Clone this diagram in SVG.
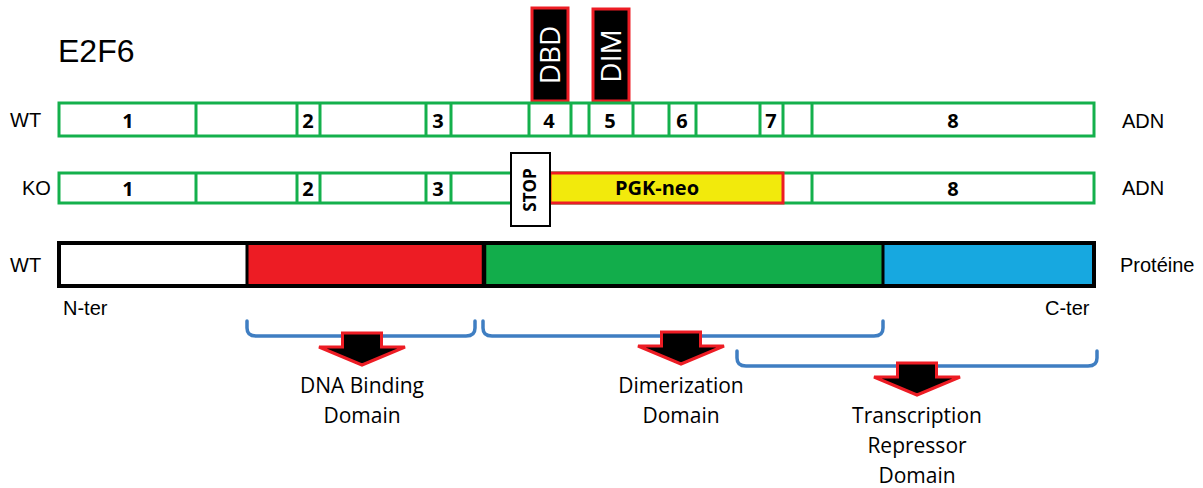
<svg xmlns="http://www.w3.org/2000/svg" width="1203" height="488" viewBox="0 0 1203 488">
<style>
.lbl{font-family:"Liberation Sans",Arial,sans-serif;font-size:20px;fill:#000}
.ex{font-family:"Open Sans","Noto Sans",sans-serif;font-weight:bold;font-size:20px;fill:#000;text-anchor:middle}
.dna{fill:#fff;stroke:#14B04C;stroke-width:3}
.div{stroke:#14B04C;stroke-width:3}
.dom{font-family:"Open Sans","Noto Sans",sans-serif;font-size:21px;fill:#000;text-anchor:middle}
.brk{fill:none;stroke:#3F7EC2;stroke-width:3.5;stroke-linecap:round}
.arr{fill:#000;stroke:#ED1C24;stroke-width:3;stroke-linejoin:miter}
.tag{fill:#000;stroke:#ED1C24;stroke-width:3}
.tagt{font-family:"Open Sans","Noto Sans",sans-serif;font-size:28px;fill:#fff;text-anchor:middle}
.pdiv{stroke:#000;stroke-width:3}
</style>
<defs>
<path id="arrow" class="arr" d="M-19.5,0 H19.5 V14 H43 L0,32 L-43,14 H-19.5 Z"/>
</defs>

<g id="title"><text x="58" y="62" style="font-family:'Liberation Sans',Arial,sans-serif;font-size:32px">E2F6</text></g>

<g id="labels">
<text class="lbl" x="10" y="127">WT</text>
<text class="lbl" x="22" y="195">KO</text>
<text class="lbl" x="10" y="272">WT</text>
<text class="lbl" x="1122" y="128">ADN</text>
<text class="lbl" x="1122" y="195">ADN</text>
<text class="lbl" x="1120" y="272">Protéine</text>
<text class="lbl" x="63" y="315">N-ter</text>
<text class="lbl" x="1045" y="315">C-ter</text>
</g>

<g id="dbd-tag">
<rect class="tag" x="532" y="8" width="36" height="93"/>
<text class="tagt" transform="translate(560,55) rotate(-90)">DBD</text>
</g>
<g id="dim-tag">
<rect class="tag" x="593" y="9" width="36" height="92"/>
<text class="tagt" transform="translate(621,56) rotate(-90)">DIM</text>
</g>

<g id="wt-dna">
<rect class="dna" x="59" y="103" width="1035" height="33"/>
<path class="div" d="M196,103V136 M297,103V136 M320,103V136 M426,103V136 M451,103V136 M529,103V136 M571,103V136 M589,103V136 M633,103V136 M669,103V136 M696,103V136 M760,103V136 M783,103V136 M812,103V136"/>
<text class="ex" x="128" y="128">1</text>
<text class="ex" x="308" y="128">2</text>
<text class="ex" x="438" y="128">3</text>
<text class="ex" x="549" y="128">4</text>
<text class="ex" x="610" y="128">5</text>
<text class="ex" x="682" y="128">6</text>
<text class="ex" x="771" y="128">7</text>
<text class="ex" x="953" y="128">8</text>
</g>

<g id="ko-dna">
<rect class="dna" x="59" y="173" width="1035" height="30"/>
<path class="div" d="M196,173V203 M297,173V203 M320,173V203 M426,173V203 M451,173V203 M812,173V203"/>
<text class="ex" x="128" y="196">1</text>
<text class="ex" x="308" y="196">2</text>
<text class="ex" x="438" y="196">3</text>
<text class="ex" x="953" y="196">8</text>
</g>
<g id="pgk-neo">
<rect x="550" y="173" width="233" height="30" fill="#F2EA0C" stroke="#ED1C24" stroke-width="3"/>
<text class="ex" x="657" y="195" style="font-size:20px">PGK-neo</text>
</g>
<g id="stop">
<rect x="511" y="153" width="39" height="73" fill="#fff" stroke="#000" stroke-width="2"/>
<text transform="translate(536,190) rotate(-90)" style="font-family:'Open Sans','Noto Sans',sans-serif;font-weight:bold;font-size:17px;text-anchor:middle">STOP</text>
</g>

<g id="protein">
<rect x="59" y="243" width="188" height="43" fill="#fff"/>
<rect x="247" y="243" width="237" height="43" fill="#ED1C24"/>
<rect x="484" y="243" width="399" height="43" fill="#12AD4B"/>
<rect x="883" y="243" width="211" height="43" fill="#17A8E0"/>
<path class="pdiv" d="M247,243V286 M883,243V286"/>
<path d="M484,243V286" stroke="#000" stroke-width="4.5"/>
<rect x="59" y="243" width="1035" height="43" fill="none" stroke="#000" stroke-width="4"/>
</g>

<g id="connectors">
<path class="brk" d="M247,321 V328 Q247,336 256,336 H466 Q475,336 475,328 V321"/>
<path class="brk" d="M483,321 V328 Q483,336 492,336 H874 Q883,336 883,328 V321"/>
<path class="brk" d="M737,351 V358 Q737,366 746,366 H1088 Q1097,366 1097,358 V351"/>
<use href="#arrow" x="362" y="333"/>
<use href="#arrow" x="681" y="332"/>
<use href="#arrow" x="917" y="363"/>
</g>

<g id="dna-binding-domain">
<text class="dom" x="362" y="393">DNA Binding</text>
<text class="dom" x="362" y="423">Domain</text>
</g>
<g id="dimerization-domain">
<text class="dom" x="681" y="393">Dimerization</text>
<text class="dom" x="681" y="423">Domain</text>
</g>
<g id="transcription-repressor-domain">
<text class="dom" x="917" y="423">Transcription</text>
<text class="dom" x="917" y="453">Repressor</text>
<text class="dom" x="917" y="483">Domain</text>
</g>
</svg>
